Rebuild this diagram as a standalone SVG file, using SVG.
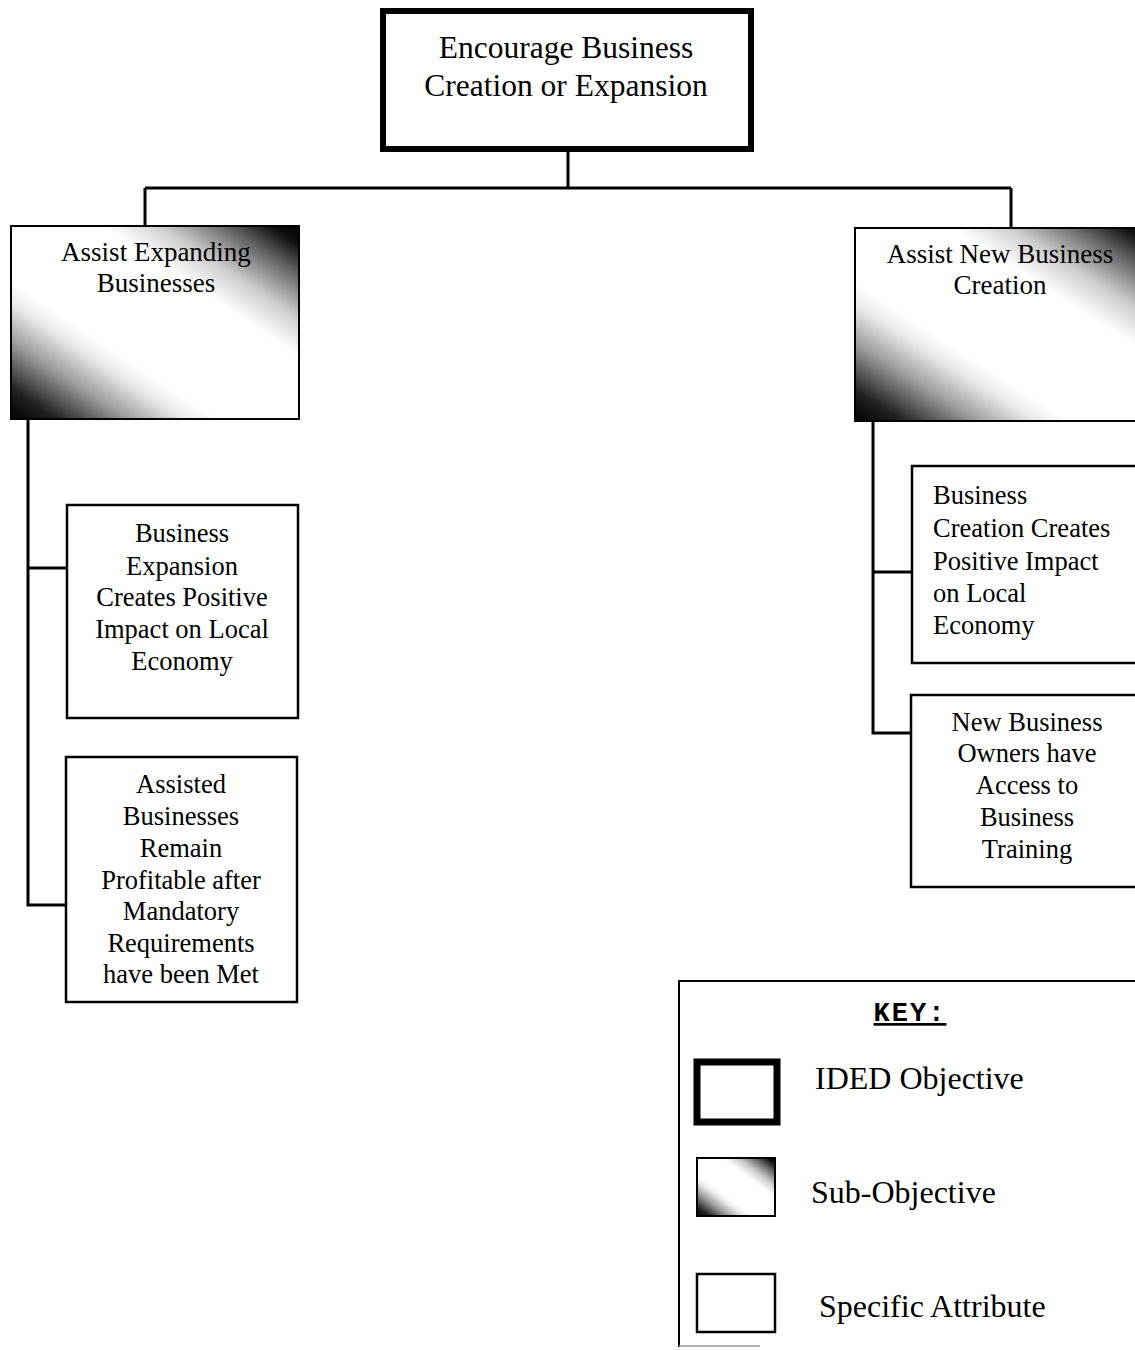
<svg xmlns="http://www.w3.org/2000/svg" width="1135" height="1350" viewBox="0 0 1135 1350">
<style>
.t{font-family:"Liberation Serif","Times New Roman",serif;fill:#000}
.c{text-anchor:middle}
.attr{fill:#fff;stroke:#000;stroke-width:2.5}
.sub{fill:url(#g);stroke:#000;stroke-width:2}
.ln{fill:none;stroke:#000;stroke-width:3}
</style>
<defs>
<linearGradient id="g" x1="0" y1="1" x2="1" y2="0">
<stop offset="0" stop-color="#000"/>
<stop offset="0.08" stop-color="#222"/>
<stop offset="0.2" stop-color="#999"/>
<stop offset="0.3" stop-color="#e8e8e8"/>
<stop offset="0.36" stop-color="#fff"/>
<stop offset="0.66" stop-color="#fff"/>
<stop offset="0.76" stop-color="#ccc"/>
<stop offset="0.87" stop-color="#666"/>
<stop offset="0.95" stop-color="#111"/>
<stop offset="1" stop-color="#000"/>
</linearGradient>
</defs>
<rect width="1135" height="1350" fill="#fff"/>
<g id="connectors">
<path class="ln" d="M568 152V188M145 188H1011M145 188V226M1011 188V228"/>
<path class="ln" d="M28 419V905H66M28 568H67"/>
<path class="ln" d="M873 421V733H911M873 572H912"/>
</g>
<g id="n-top">
<rect x="383" y="11" width="368" height="138" fill="#fff" stroke="#000" stroke-width="6"/>
<text class="t c" x="566" y="58" font-size="31.5">Encourage Business</text>
<text class="t c" x="566" y="96" font-size="31.5">Creation or Expansion</text>
</g>
<g id="n-assist-expanding">
<rect class="sub" x="11" y="226" width="288" height="193"/>
<text class="t c" x="156" y="261" font-size="27">Assist Expanding</text>
<text class="t c" x="156" y="292" font-size="27">Businesses</text>
</g>
<g id="n-assist-new">
<rect class="sub" x="855" y="228" width="300" height="193"/>
<text class="t c" x="1000" y="263" font-size="27">Assist New Business</text>
<text class="t c" x="1000" y="294" font-size="27">Creation</text>
</g>
<g id="n-expansion-impact">
<rect class="attr" x="67" y="505" width="231" height="213"/>
<text class="t c" font-size="26.5"><tspan x="182" y="542">Business</tspan><tspan x="182" y="575">Expansion</tspan><tspan x="182" y="606">Creates Positive</tspan><tspan x="182" y="638">Impact on Local</tspan><tspan x="182" y="670">Economy</tspan></text>
</g>
<g id="n-remain-profitable">
<rect class="attr" x="66" y="757" width="231" height="245"/>
<text class="t c" font-size="26.5"><tspan x="181" y="793">Assisted</tspan><tspan x="181" y="825">Businesses</tspan><tspan x="181" y="857">Remain</tspan><tspan x="181" y="889">Profitable after</tspan><tspan x="181" y="920">Mandatory</tspan><tspan x="181" y="952">Requirements</tspan><tspan x="181" y="983">have been Met</tspan></text>
</g>
<g id="n-creation-impact">
<rect class="attr" x="912" y="466" width="240" height="197"/>
<text class="t" font-size="26.5"><tspan x="933" y="504">Business</tspan><tspan x="933" y="537">Creation Creates</tspan><tspan x="933" y="570">Positive Impact</tspan><tspan x="933" y="602">on Local</tspan><tspan x="933" y="634">Economy</tspan></text>
</g>
<g id="n-training">
<rect class="attr" x="911" y="695" width="240" height="192"/>
<text class="t c" font-size="26.5"><tspan x="1027" y="731">New Business</tspan><tspan x="1027" y="762">Owners have</tspan><tspan x="1027" y="794">Access to</tspan><tspan x="1027" y="826">Business</tspan><tspan x="1027" y="858">Training</tspan></text>
</g>
<g id="key">
<path d="M1140 981H679V1347" fill="none" stroke="#000" stroke-width="2"/>
<path d="M679 1346H760" fill="none" stroke="#999" stroke-width="1.5"/>
<text x="910" y="1021" font-family="'Liberation Mono','Courier New',monospace" font-weight="bold" font-size="27" text-anchor="middle" letter-spacing="2" text-decoration="underline">KEY:</text>
<rect x="697" y="1062" width="80" height="60" fill="#fff" stroke="#000" stroke-width="7"/>
<rect class="sub" x="697" y="1158" width="78" height="58"/>
<rect class="attr" x="697" y="1274" width="78" height="58"/>
<text class="t" x="815" y="1089" font-size="32">IDED Objective</text>
<text class="t" x="811" y="1203" font-size="32">Sub-Objective</text>
<text class="t" x="819" y="1317" font-size="32">Specific Attribute</text>
</g>
</svg>
